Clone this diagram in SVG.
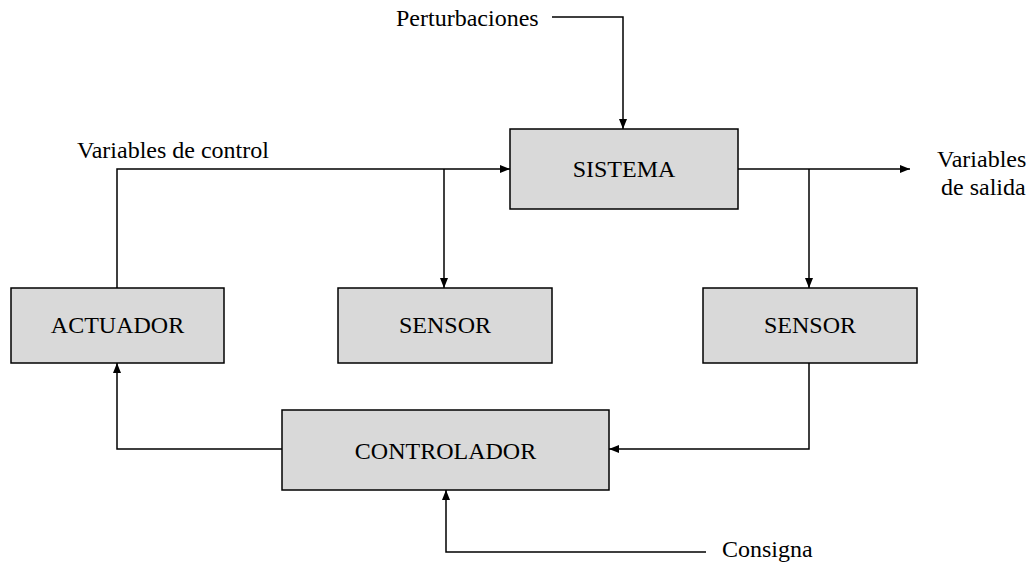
<svg xmlns="http://www.w3.org/2000/svg" width="1033" height="565" viewBox="0 0 1033 565">
<style>
.box{fill:#d9d9d9;stroke:#000;stroke-width:1.5}
.t{font-family:"Liberation Serif","Times New Roman","DejaVu Serif",serif;font-size:24px;fill:#000}
.c{text-anchor:middle}
.ln{fill:none;stroke:#000;stroke-width:1.5}
</style>
<defs>
<marker id="ah" viewBox="0 0 10 8" refX="10" refY="4" markerWidth="10" markerHeight="8" markerUnits="userSpaceOnUse" orient="auto">
<path d="M0,0 L10,4 L0,8 Z" fill="#000"/>
</marker>
</defs>
<rect width="1033" height="565" fill="#fff"/>
<g id="connectors">
<path class="ln" d="M552,17 H623 V129" marker-end="url(#ah)"/>
<path class="ln" d="M117,288 V169 H510" marker-end="url(#ah)"/>
<path class="ln" d="M444,169 V288" marker-end="url(#ah)"/>
<path class="ln" d="M738,169 H910" marker-end="url(#ah)"/>
<path class="ln" d="M809,169 V288" marker-end="url(#ah)"/>
<path class="ln" d="M809,363 V449 H609" marker-end="url(#ah)"/>
<path class="ln" d="M282,449 H117 V363" marker-end="url(#ah)"/>
<path class="ln" d="M706,552 H446 V490" marker-end="url(#ah)"/>
</g>
<g id="sistema"><rect class="box" x="510" y="129" width="228" height="80"/><text class="t c" x="624" y="177">SISTEMA</text></g>
<g id="actuador"><rect class="box" x="11" y="288" width="213" height="75"/><text class="t c" x="117.5" y="333">ACTUADOR</text></g>
<g id="sensor1"><rect class="box" x="338" y="288" width="214" height="75"/><text class="t c" x="445" y="333">SENSOR</text></g>
<g id="sensor2"><rect class="box" x="703" y="288" width="214" height="75"/><text class="t c" x="810" y="333">SENSOR</text></g>
<g id="controlador"><rect class="box" x="282" y="410" width="327" height="80"/><text class="t c" x="445.5" y="459">CONTROLADOR</text></g>
<g id="labels">
<text class="t" x="396" y="26">Perturbaciones</text>
<text class="t" x="77" y="158">Variables de control</text>
<text class="t" x="937" y="167">Variables</text>
<text class="t" x="941" y="195">de salida</text>
<text class="t" x="722" y="557">Consigna</text>
</g>
</svg>
